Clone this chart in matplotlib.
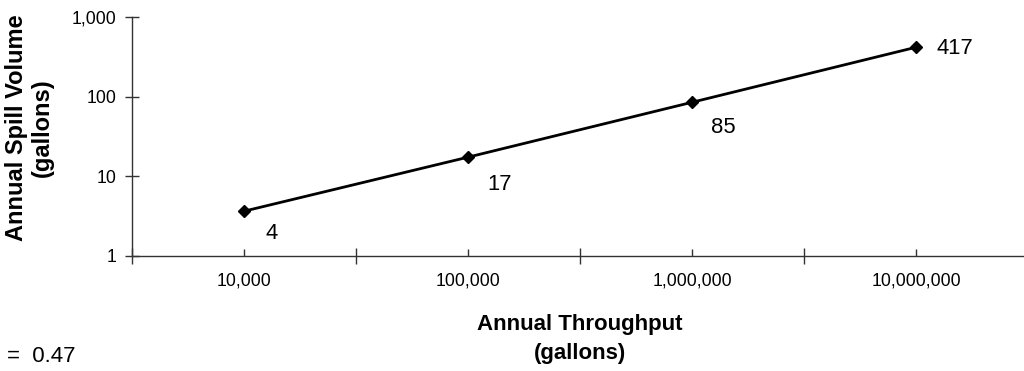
import matplotlib
matplotlib.use("Agg")
import matplotlib.pyplot as plt
from matplotlib.ticker import FixedLocator, FixedFormatter, NullFormatter

plt.rcParams['font.family'] = ['Liberation Sans', 'DejaVu Sans']

categories = ["10,000", "100,000", "1,000,000", "10,000,000"]
spill = [3.65, 17.4, 85, 417]
point_labels = ["4", "17", "85", "417"]
y_ticks = [1, 10, 100, 1000]
y_ticklabels = ["1", "10", "100", "1,000"]

fig = plt.figure(figsize=(10.24, 3.71), dpi=100)
ax = fig.add_axes([132/1024, 115/371, 896/1024, 239/371])

xs = [i + 0.5 for i in range(len(categories))]
ax.plot(xs, spill, color='black', lw=2, marker='D', markersize=6, zorder=3, clip_on=False)

ax.set_yscale('log')
ax.set_ylim(1, 1000)
ax.set_xlim(0, len(categories))

ax.yaxis.set_major_locator(FixedLocator(y_ticks))
ax.yaxis.set_major_formatter(FixedFormatter(y_ticklabels))
ax.yaxis.set_minor_locator(FixedLocator([]))
ax.tick_params(axis='y', which='major', direction='inout', length=10, width=1,
               labelsize=12.7, pad=6, color='#333333')

ax.xaxis.set_major_locator(FixedLocator(list(range(len(categories) + 1))))
ax.xaxis.set_major_formatter(NullFormatter())
ax.xaxis.set_minor_locator(FixedLocator(xs))
ax.xaxis.set_minor_formatter(FixedFormatter(categories))
ax.tick_params(axis='x', which='major', direction='inout', length=11, width=1, color='#333333')
ax.tick_params(axis='x', which='minor', direction='in', length=5, width=1,
               labelsize=12.7, pad=12, color='#333333')

for s in ['top', 'right']:
    ax.spines[s].set_visible(False)
for s in ['left', 'bottom']:
    ax.spines[s].set_color('#333333')
    ax.spines[s].set_linewidth(1)

offsets = [(28, -22), (32, -27), (31, -25), (39, -1)]
for x, y, lab, off in zip(xs, spill, point_labels, offsets):
    ax.annotate(lab, (x, y), xytext=off, textcoords='offset pixels',
                ha='center', va='center', fontsize=15.8)

fig.text(29.5/1024, 1 - 128/371, "Annual Spill Volume\n(gallons)", rotation=90,
         ha='center', va='center', fontsize=17, fontweight='bold', linespacing=1.15,
         multialignment='center')
fig.text(580/1024, 1 - 339/371, "Annual Throughput\n(gallons)",
         ha='center', va='center', fontsize=16, fontweight='bold', linespacing=1.45,
         multialignment='center')
fig.text(7/1024, 1 - 357/371, "=  0.47", ha='left', va='center', fontsize=16)

fig.savefig("out.png", dpi=100)
